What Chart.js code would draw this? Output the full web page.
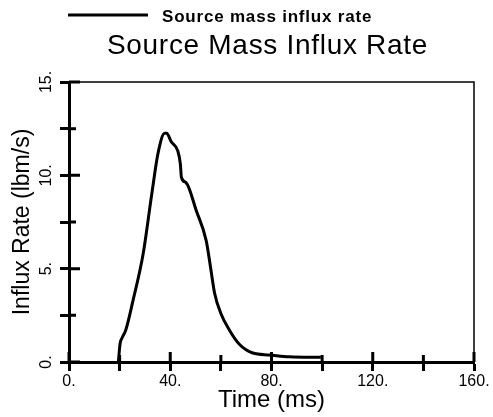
<!DOCTYPE html>
<html>
<head>
<meta charset="utf-8">
<script src="https://cdn.jsdelivr.net/npm/chart.js@4.4.1/dist/chart.umd.min.js"></script>
<style>
  body { margin: 0; background: #fff; }
  canvas { display: block; }
</style>
</head>
<body>
<canvas id="chart" width="493" height="417"></canvas>
<script>
// values
var timeMs = [19.5, 20.2, 21.0, 22.4, 25.3, 29.3, 32.7, 35.2, 37.8, 38.6, 40.4, 43.0, 44.0, 44.4, 46.3, 50.3, 54.2, 56.0, 57.5, 60.0, 63.4, 67.3, 72.6, 79.1, 87.0, 99.5];
var influx = [0, 1.0, 1.3, 1.7, 3.3, 5.8, 9.0, 11.2, 12.25, 12.25, 11.8, 11.3, 10.6, 9.9, 9.6, 8.1, 6.5, 5.0, 3.7, 2.6, 1.7, 0.95, 0.48, 0.38, 0.28, 0.25];

var seriesLabel = 'Source mass influx rate';
var chartTitle = 'Source Mass Influx Rate';
var xTitle = 'Time (ms)';
var yTitle = 'Influx Rate (lbm/s)';

var xLabelEvery = 40;
var yLabelEvery = 5;

var FONT = "'Liberation Sans', Arial, Helvetica, sans-serif";
Chart.defaults.font.family = FONT;
Chart.defaults.color = '#000';

var points = timeMs.map(function (t, i) {
    return { x: t, y: influx[i] };
});

// title, legend, frame and the inner half of the ticks
var decor = {
    id: 'decor',
    afterDraw: function (chart) {
        var ctx = chart.ctx;
        var a = chart.chartArea;
        var xs = chart.scales.x;
        var ys = chart.scales.y;
        ctx.save();

        // legend
        var ds = chart.data.datasets[0];
        ctx.strokeStyle = ds.borderColor;
        ctx.lineWidth = 3;
        ctx.beginPath();
        ctx.moveTo(68, 15);
        ctx.lineTo(148, 15);
        ctx.stroke();
        ctx.fillStyle = '#000';
        ctx.font = 'bold 17px ' + FONT;
        ctx.letterSpacing = '0.8px';
        ctx.textBaseline = 'alphabetic';
        ctx.textAlign = 'left';
        ctx.fillText(ds.label, 162, 21.5);

        // title
        ctx.font = '28px ' + FONT;
        ctx.letterSpacing = '0.7px';
        ctx.textAlign = 'center';
        ctx.fillText(chartTitle, (a.left + a.right) / 2 - 4, 53.5);
        ctx.letterSpacing = '0px';

        // top and right frame
        ctx.lineWidth = 1.5;
        ctx.beginPath();
        ctx.moveTo(a.left, a.top);
        ctx.lineTo(a.right, a.top);
        ctx.lineTo(a.right, a.bottom);
        ctx.stroke();

        // ticks reaching into the plot
        ctx.lineWidth = 3;
        ctx.beginPath();
        xs.ticks.forEach(function (t) {
            var px = xs.getPixelForValue(t.value);
            var len = t.value % xLabelEvery === 0 ? 10 : 7;
            ctx.moveTo(px, a.bottom);
            ctx.lineTo(px, a.bottom - len);
        });
        ys.ticks.forEach(function (t) {
            var py = ys.getPixelForValue(t.value);
            var len = t.value % yLabelEvery === 0 ? 11 : 7;
            ctx.moveTo(a.left, py);
            ctx.lineTo(a.left + len, py);
        });
        ctx.stroke();
        ctx.restore();
    }
};

var config = {
    type: 'line',
    data: {
        datasets: [{
            label: seriesLabel,
            data: points,
            borderColor: '#000',
            borderWidth: 3,
            pointRadius: 0,
            fill: false,
            cubicInterpolationMode: 'monotone'
        }]
    },
    options: {
        responsive: false,
        animation: false,
        layout: {
            padding: { top: 82, right: 19, bottom: 0, left: 0 }
        },
        plugins: {
            legend: { display: false },
            title: { display: false },
            tooltip: { enabled: false }
        },
        scales: {
            x: {
                type: 'linear',
                min: 0,
                max: 160,
                afterFit: function (scale) { scale.height = 55; },
                ticks: {
                    stepSize: 20,
                    padding: 1,
                    maxRotation: 0,
                    autoSkip: false,
                    font: { size: 16 },
                    callback: function (v) {
                        return v % xLabelEvery === 0 ? v + '.' : '';
                    }
                },
                grid: {
                    drawOnChartArea: false,
                    drawTicks: true,
                    tickLength: 9,
                    tickWidth: 3,
                    tickColor: '#000'
                },
                border: { display: true, color: '#000', width: 3 },
                title: {
                    display: true,
                    text: xTitle,
                    font: { size: 24 },
                    padding: { top: 0, bottom: 2 }
                }
            },
            y: {
                min: 0,
                max: 15,
                afterFit: function (scale) { scale.width = 69; },
                ticks: {
                    stepSize: 2.5,
                    padding: 2,
                    minRotation: 90,
                    maxRotation: 90,
                    crossAlign: 'center',
                    autoSkip: false,
                    font: { size: 16 },
                    callback: function (v) {
                        return v % yLabelEvery === 0 ? v + '.' : '';
                    }
                },
                grid: {
                    drawOnChartArea: false,
                    drawTicks: true,
                    tickLength: 9,
                    tickWidth: 3,
                    tickColor: '#000'
                },
                border: { display: true, color: '#000', width: 3 },
                title: {
                    display: true,
                    text: yTitle,
                    font: { size: 23 },
                    padding: { top: 9, bottom: 0 }
                }
            }
        }
    },
    plugins: [decor]
};

window.onload = function () {
    var ctx = document.getElementById('chart').getContext('2d');
    window.myChart = new Chart(ctx, config);
};
</script>
</body>
</html>
